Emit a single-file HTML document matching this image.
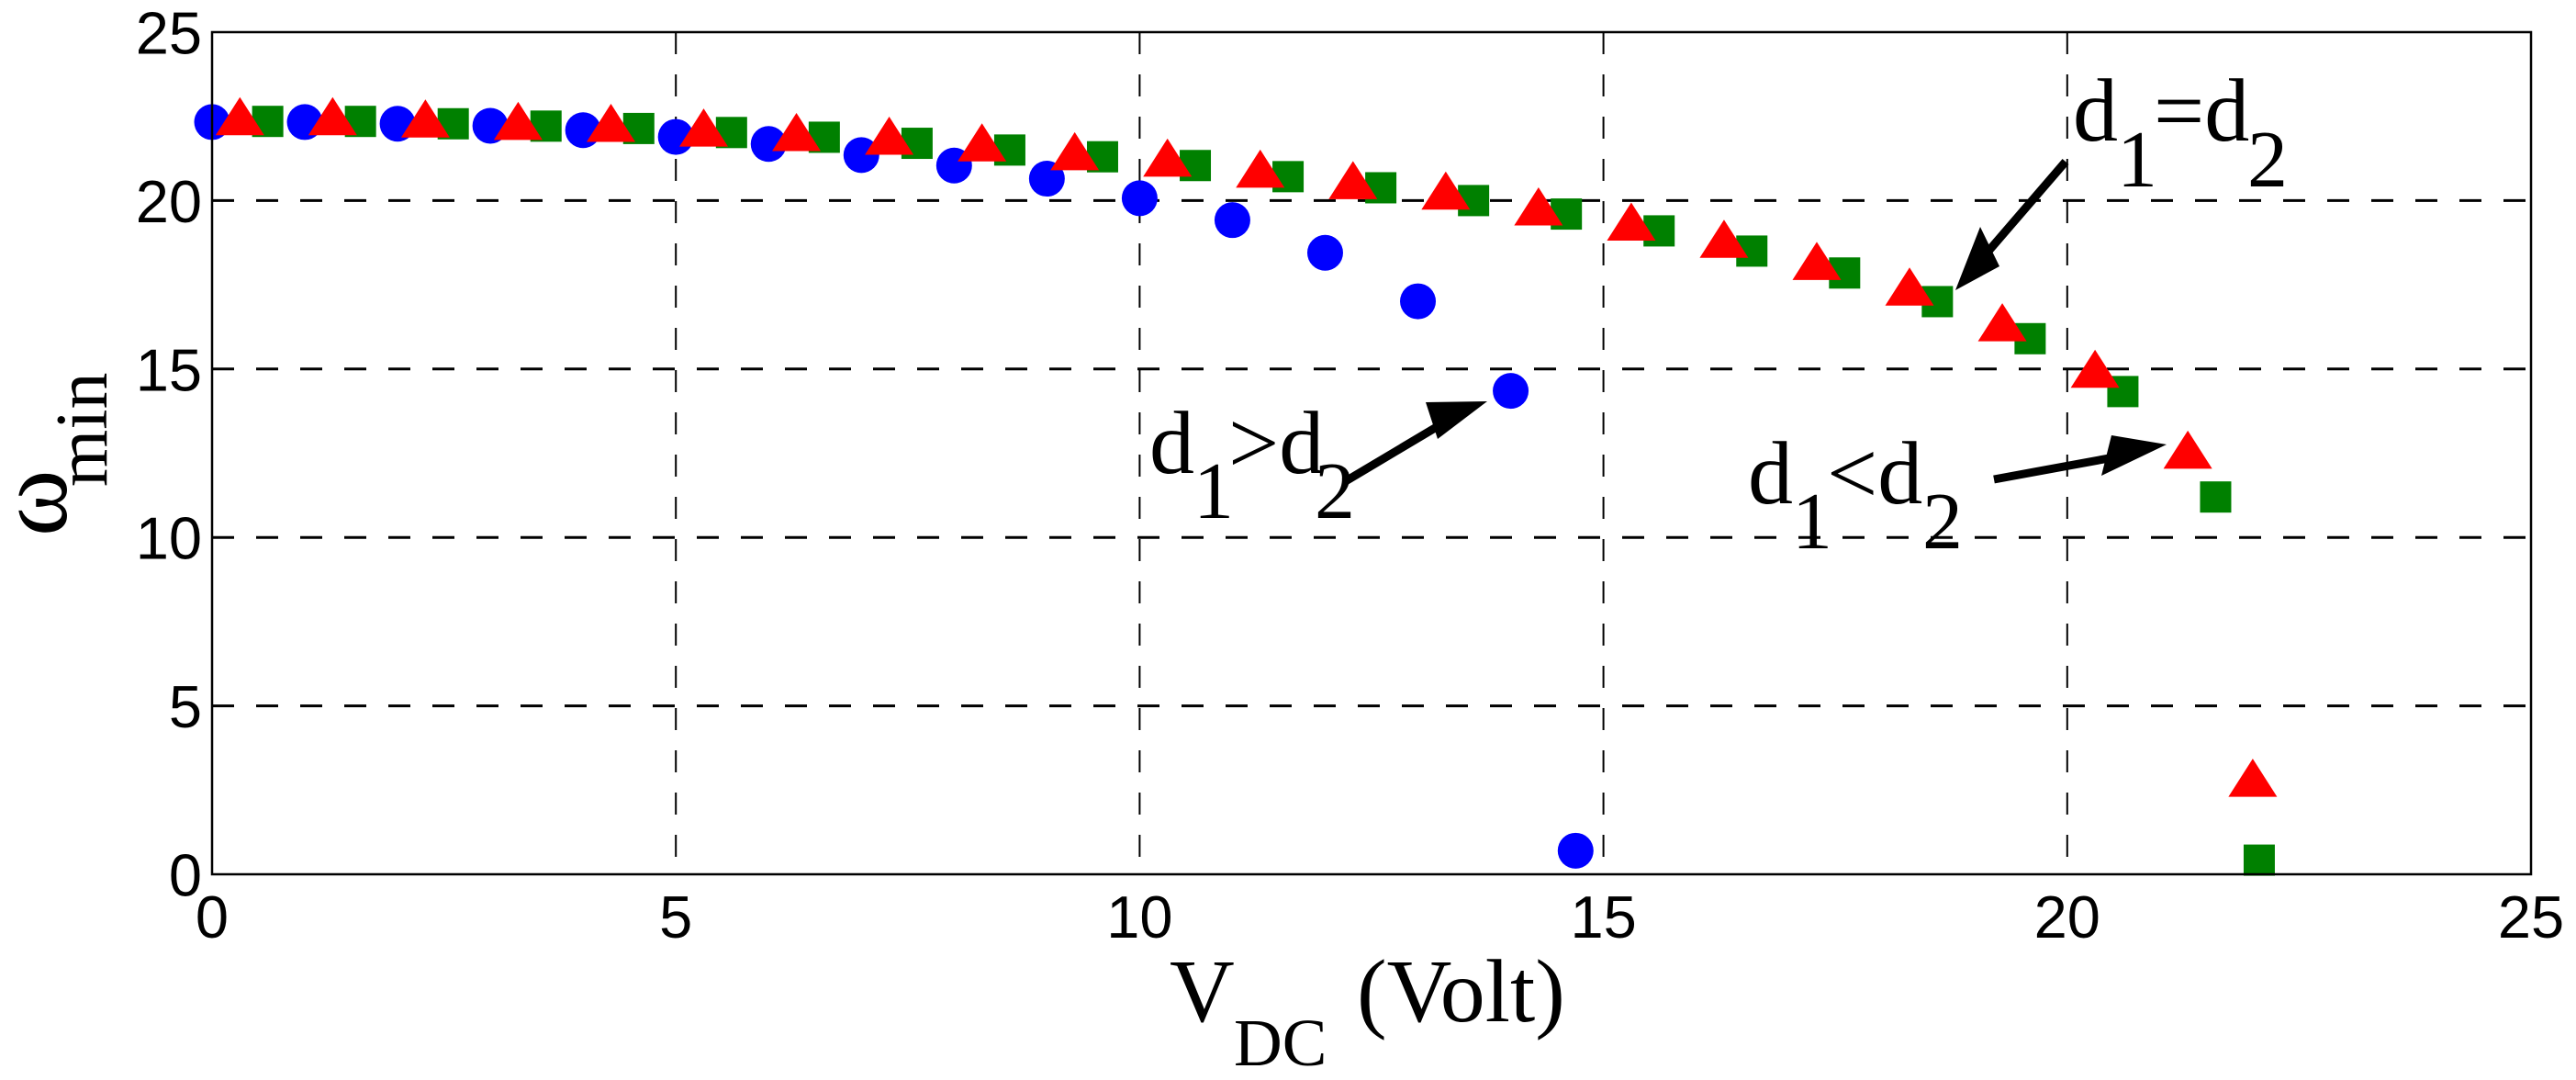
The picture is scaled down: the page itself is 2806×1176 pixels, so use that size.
<!DOCTYPE html>
<html><head><meta charset="utf-8"><style>
html,body{margin:0;padding:0;background:#fff;}
svg{display:block;}
</style></head><body>
<svg id="chart" width="2806" height="1176" viewBox="0 0 2806 1176" xmlns="http://www.w3.org/2000/svg">
<rect width="2806" height="1176" fill="#fff"/>
<g id="grid"></g>
<g id="marks"></g>
<rect x="231" y="35" width="2526" height="917" fill="none" stroke="#000" stroke-width="2.5"/>
<g id="ticks" font-family="Liberation Sans, Arial, sans-serif" font-size="65" fill="#000"></g>

<g font-family="Liberation Serif, Times New Roman, serif" fill="#000">
<text x="1274" y="1112" font-size="98">V</text>
<text x="1344" y="1160" font-size="73">DC</text>
<text x="1478" y="1112" font-size="98">(Volt)</text>
</g>
<g font-family="Liberation Serif, Times New Roman, serif" fill="#000">
<text transform="translate(72,584) rotate(-90)" font-size="110">ω</text>
<text transform="translate(116,530) rotate(-90)" font-size="80">min</text>
</g>

<g font-family="Liberation Serif, Times New Roman, serif" fill="#000">
<text x="2258" y="153" font-size="98">d</text>
<text x="2306" y="203" font-size="88">1</text>
<text x="2346" y="153" font-size="98">=d</text>
<text x="2448" y="203" font-size="88">2</text>
<line x1="2250" y1="176" x2="2150" y2="292" stroke="#000" stroke-width="9"/>
<polygon points="2130,316 2157,247 2178,290" fill="#000"/>
</g>
<g font-family="Liberation Serif, Times New Roman, serif" fill="#000">
<text x="1252" y="515" font-size="98">d</text>
<text x="1300" y="564" font-size="88">1</text>
<text x="1338" y="515" font-size="98">&gt;d</text>
<text x="1432" y="564" font-size="88">2</text>
<line x1="1464" y1="525" x2="1590" y2="450" stroke="#000" stroke-width="9"/>
<polygon points="1620,437 1553,438 1566,478" fill="#000"/>
</g>
<g font-family="Liberation Serif, Times New Roman, serif" fill="#000">
<text x="1904" y="548" font-size="98">d</text>
<text x="1952" y="597" font-size="88">1</text>
<text x="1990" y="548" font-size="98">&lt;d</text>
<text x="2094" y="597" font-size="88">2</text>
<line x1="2172" y1="522" x2="2330" y2="493" stroke="#000" stroke-width="9"/>
<polygon points="2360,484 2300,474 2289,518" fill="#000"/>
</g>
</svg>
<script>
const xTicks = [0, 5, 10, 15, 20, 25];
const yTicks = [0, 5, 10, 15, 20, 25];
const blueX = [0,1,2,3,4,5,6,7,8,9,10,11,12,13,14,14.7];
const blueY = [22.33,22.33,22.28,22.22,22.09,21.89,21.68,21.35,21.04,20.65,20.07,19.42,18.45,17.01,14.35,0.7];
const redX = [0.3,1.3,2.3,3.3,4.3,5.3,6.3,7.3,8.3,9.3,10.3,11.3,12.3,13.3,14.3,15.3,16.3,17.3,18.3,19.3,20.3,21.3,22.0];
const redY = [22.5,22.5,22.43,22.36,22.3,22.16,22.03,21.92,21.72,21.46,21.27,20.94,20.6,20.29,19.82,19.37,18.86,18.2,17.44,16.38,15.0,12.6,2.86];
const greenX = [0.6,1.6,2.6,3.6,4.6,5.6,6.6,7.6,8.6,9.6,10.6,11.6,12.6,13.6,14.6,15.6,16.6,17.6,18.6,19.6,20.6,21.6,22.07];
const greenY = [22.35,22.35,22.28,22.21,22.14,22.02,21.88,21.7,21.5,21.3,21.04,20.71,20.38,20.0,19.6,19.1,18.5,17.85,17.0,15.9,14.33,11.2,0.42];

const X0 = 231, X1 = 2757, Y0 = 952, Y1 = 35;
const xs = v => X0 + (v - 0) / 25 * (X1 - X0);
const ys = v => Y0 - (v - 0) / 25 * (Y0 - Y1);
const NS = 'http://www.w3.org/2000/svg';
const mk = (tag, attrs, parent) => { const e = document.createElementNS(NS, tag); for (const k in attrs) e.setAttribute(k, attrs[k]); parent.appendChild(e); return e; };

const grid = document.getElementById('grid');
const ticks = document.getElementById('ticks');
xTicks.forEach(t => {
  if (t > 0 && t < 25) {
    const l = mk('line', {x1: xs(t), x2: xs(t), y1: Y1, y2: Y0, stroke: '#000', 'stroke-width': 2, 'stroke-dasharray': '24,22'}, grid);
    
    
  }
  const tx = mk('text', {x: xs(t), y: 1021, 'text-anchor': 'middle'}, ticks);
  tx.textContent = t;
  
  
});
yTicks.forEach(t => {
  if (t > 0 && t < 25) {
    const l = mk('line', {x1: X0, x2: X1, y1: ys(t), y2: ys(t), stroke: '#000', 'stroke-width': 3, 'stroke-dasharray': '24,24'}, grid);
    
    
  }
  const tx = mk('text', {x: 220, y: ys(t) + 23.5, 'text-anchor': 'end'}, ticks);
  tx.textContent = t;
  
  
});

const marks = document.getElementById('marks');
blueX.forEach((x, i) => {
  const c = mk('circle', {cx: xs(x), cy: ys(blueY[i]), r: 19.5, fill: '#0000ff'}, marks);
  
  
});
greenX.forEach((x, i) => {
  const cx = xs(x), cy = ys(greenY[i]);
  const r = mk('rect', {x: cx - 17, y: cy - 17, width: 34, height: 34, fill: '#008000'}, marks);
  
  
});
redX.forEach((x, i) => {
  const cx = xs(x), cy = ys(redY[i]);
  const p = mk('polygon', {points: `${cx},${cy - 21} ${cx + 26.5},${cy + 20.5} ${cx - 26.5},${cy + 20.5}`, fill: '#ff0000'}, marks);
  
  
});
</script>
</body></html>
